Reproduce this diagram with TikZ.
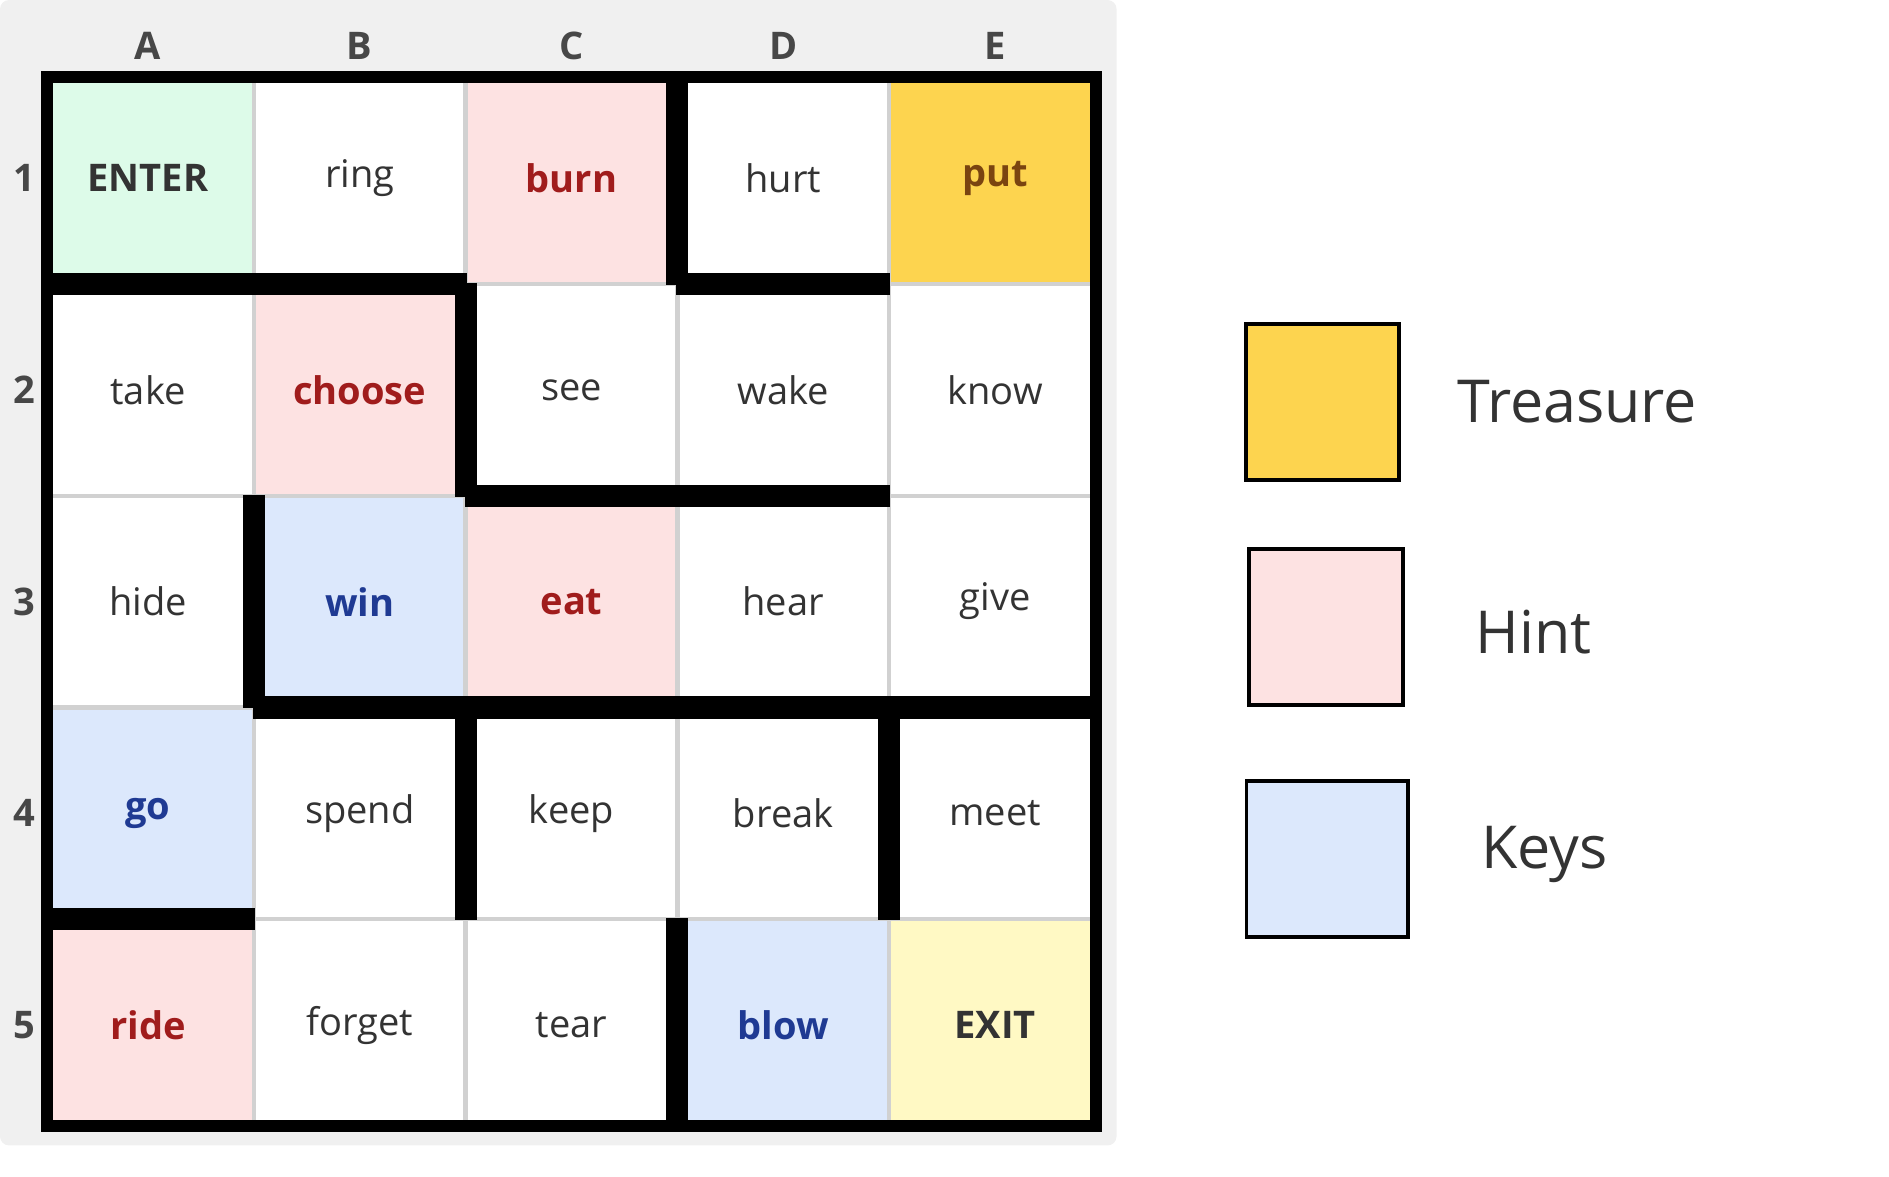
\documentclass[tikz,border=0pt]{standalone}
\usepackage{fontspec}
\setmainfont{Open Sans}
\usepackage{tikz}
\usetikzlibrary{positioning}

\definecolor{txt}{HTML}{333333}
\definecolor{hintred}{HTML}{A01C1C}
\definecolor{keyblue}{HTML}{1F3A93}
\definecolor{gold}{HTML}{7A4410}
\definecolor{enterfill}{HTML}{DDFBE9}
\definecolor{hintfill}{HTML}{FDE2E2}
\definecolor{treasfill}{HTML}{FDD44F}
\definecolor{keyfill}{HTML}{DCE8FC}
\definecolor{exitfill}{HTML}{FFF9C4}
\definecolor{panel}{HTML}{F0F0F0}

\tikzset{
  cell/.style={draw=black!18, line width=1.5pt, minimum size=3.5cm, inner sep=0pt, font=\fontsize{18}{22}\selectfont, text=txt},
  plain/.style={cell, fill=white},
  enter/.style={cell, fill=enterfill, font=\fontsize{18}{22}\selectfont\bfseries},
  hint/.style={cell, fill=hintfill, text=hintred, font=\fontsize{18}{22}\selectfont\bfseries},
  treas/.style={cell, fill=treasfill, text=gold, font=\fontsize{18}{22}\selectfont\bfseries},
  keys/.style={cell, fill=keyfill, text=keyblue, font=\fontsize{18}{22}\selectfont\bfseries},
  exitc/.style={cell, fill=exitfill, font=\fontsize{18}{22}\selectfont\bfseries},
  wall/.style={line width=0.2cm, black},
  axis/.style={font=\fontsize{18}{22}\selectfont\bfseries, text=txt!90},
  legbox/.style={draw=black, line width=1.8pt, minimum width=2.55cm, minimum height=2.6cm},
  legtext/.style={font=\fontsize{28}{32}\selectfont, text=txt, anchor=west}
}

\begin{document}
\begin{tikzpicture}[x=0.02cm, y=-0.02cm]
  \useasboundingbox (0,0) rectangle (1570,978);
  \fill[panel, rounded corners=0.15cm] (0,0) rectangle (928,952);

  % grid of cells
  \foreach \r/\row in {1/{enter/ENTER,plain/ring,hint/burn,plain/hurt,treas/put},
                       2/{plain/take,hint/choose,plain/see,plain/wake,plain/know},
                       3/{plain/hide,keys/win,hint/eat,plain/hear,plain/give},
                       4/{keys/go,plain/spend,plain/keep,plain/break,plain/meet},
                       5/{hint/ride,plain/forget,plain/tear,keys/blow,exitc/EXIT}} {
    \foreach \kind/\word [count=\c] in \row {
      \node[\kind] (c\c\r) at ({35+176*(\c-0.5)},{60+176*(\r-0.5)}) {\word};
    }
  }

  % column and row labels
  \foreach \name [count=\c] in {A,B,C,D,E}
    \node[axis] (col\c) at ({35+176*(\c-0.5)},38) {\name};
  \foreach \r in {1,...,5}
    \node[axis] (row\r) at (20,{60+176*(\r-0.5)}) {\r};

  % walls, drawn inside each cell
  \foreach \c/\r/\s in {1/1/t,2/1/t,3/1/t,4/1/t,5/1/t,
                        1/5/b,2/5/b,3/5/b,4/5/b,5/5/b,
                        1/1/l,1/2/l,1/3/l,1/4/l,1/5/l,
                        5/1/r,5/2/r,5/3/r,5/4/r,5/5/r,
                        1/1/b,1/2/t,2/1/b,2/2/t,4/1/b,4/2/t,3/1/r,4/1/l,
                        2/2/r,3/2/l,3/2/b,3/3/t,4/2/b,4/3/t,
                        1/3/r,2/3/l,2/3/b,2/4/t,3/3/b,3/4/t,4/3/b,4/4/t,5/3/b,5/4/t,
                        1/4/b,1/5/t,2/4/r,3/4/l,4/4/r,5/4/l,
                        3/5/r,4/5/l} {
    \if\s t\draw[wall] ([yshift=-0.1cm]c\c\r.north west) -- ([yshift=-0.1cm]c\c\r.north east);\fi
    \if\s b\draw[wall] ([yshift=0.1cm]c\c\r.south west) -- ([yshift=0.1cm]c\c\r.south east);\fi
    \if\s l\draw[wall] ([xshift=0.1cm]c\c\r.north west) -- ([xshift=0.1cm]c\c\r.south west);\fi
    \if\s r\draw[wall] ([xshift=-0.1cm]c\c\r.north east) -- ([xshift=-0.1cm]c\c\r.south east);\fi
  }

  % legend
  \node[legbox, fill=treasfill] (legT) at (1099,334) {};
  \node[legbox, fill=hintfill] (legH) at (1102,521) {};
  \node[legbox, fill=keyfill, minimum width=2.68cm] (legK) at (1103,714) {};
  \node[legtext] (txtT) at (1205,334) {Treasure};
  \node[legtext] (txtH) at (1220,525) {Hint};
  \node[legtext] (txtK) at (1225,710) {Keys};
\end{tikzpicture}
\end{document}
